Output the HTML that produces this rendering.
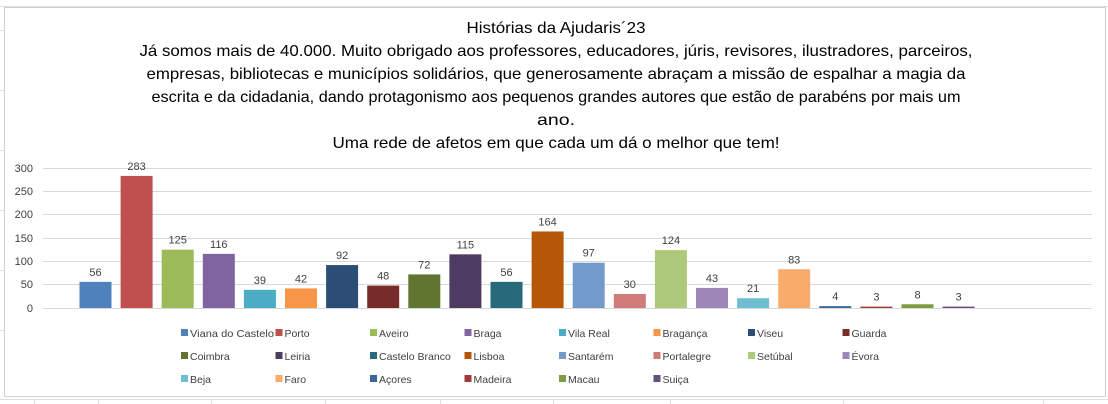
<!DOCTYPE html>
<html><head><meta charset="utf-8"><style>
body{margin:0;background:#fff;}
svg{display:block;font-family:"Liberation Sans",sans-serif;}
</style></head><body>
<svg width="1108" height="404" viewBox="0 0 1108 404" xmlns="http://www.w3.org/2000/svg">
<rect width="1108" height="404" fill="#fff"/>
<g stroke="#e0e0e0" stroke-width="1">
<line x1="0" y1="6.5" x2="1108" y2="6.5"/>
<line x1="0" y1="399.5" x2="1108" y2="399.5"/>
<line x1="34.5" y1="399" x2="34.5" y2="404"/><line x1="98.5" y1="399" x2="98.5" y2="404"/><line x1="211.5" y1="399" x2="211.5" y2="404"/><line x1="325.5" y1="399" x2="325.5" y2="404"/><line x1="440.5" y1="399" x2="440.5" y2="404"/><line x1="553.5" y1="399" x2="553.5" y2="404"/><line x1="670.5" y1="399" x2="670.5" y2="404"/><line x1="843.5" y1="399" x2="843.5" y2="404"/><line x1="1043.5" y1="399" x2="1043.5" y2="404"/>
<line x1="0" y1="30.5" x2="4" y2="30.5"/><line x1="0" y1="90.5" x2="4" y2="90.5"/><line x1="0" y1="150.5" x2="4" y2="150.5"/><line x1="0" y1="210.5" x2="4" y2="210.5"/><line x1="0" y1="270.5" x2="4" y2="270.5"/><line x1="0" y1="330.5" x2="4" y2="330.5"/>
</g>
<rect x="4.5" y="7.5" width="1101" height="389" fill="#fff" stroke="#d0d0d0"/>
<g font-size="16" fill="#000" text-anchor="middle">
<text x="556" y="33" textLength="179" lengthAdjust="spacingAndGlyphs">Histórias da Ajudaris´23</text>
<text x="556" y="56" textLength="833" lengthAdjust="spacingAndGlyphs">Já somos mais de 40.000. Muito obrigado aos professores, educadores, júris, revisores, ilustradores, parceiros,</text>
<text x="556" y="79" textLength="819" lengthAdjust="spacingAndGlyphs">empresas, bibliotecas e municípios solidários, que generosamente abraçam a missão de espalhar a magia da</text>
<text x="556" y="102" textLength="809" lengthAdjust="spacingAndGlyphs">escrita e da cidadania, dando protagonismo aos pequenos grandes autores que estão de parabéns por mais um</text>
<text x="556" y="125" textLength="38" lengthAdjust="spacingAndGlyphs">ano.</text>
<text x="556" y="148" textLength="447" lengthAdjust="spacingAndGlyphs">Uma rede de afetos em que cada um dá o melhor que tem!</text>
</g>
<g stroke="#d9d9d9" stroke-width="1">
<line x1="43" y1="168.5" x2="1092" y2="168.5"/>
<line x1="43" y1="191.5" x2="1092" y2="191.5"/>
<line x1="43" y1="214.5" x2="1092" y2="214.5"/>
<line x1="43" y1="238.5" x2="1092" y2="238.5"/>
<line x1="43" y1="261.5" x2="1092" y2="261.5"/>
<line x1="43" y1="284.5" x2="1092" y2="284.5"/>
<line x1="43" y1="308.5" x2="1092" y2="308.5"/>
</g>
<g font-size="11" fill="#404040" text-anchor="end">
<text x="33" y="172">300</text><text x="33" y="195">250</text><text x="33" y="218">200</text><text x="33" y="242">150</text><text x="33" y="265">100</text><text x="33" y="288">50</text><text x="33" y="312">0</text>
</g>
<g id="bars" font-size="11" fill="#404040" text-anchor="middle"></g>
<g id="leg" font-size="10.5" fill="#404040"></g>
<script>
var vals=[56,283,125,116,39,42,92,48,72,115,56,164,97,30,124,43,21,83,4,3,8,3];
var cols=["#4f81bd","#c0504d","#9bbb59","#8064a2","#4bacc6","#f79646","#2c4d75","#772c2a","#5f7530","#4d3b62","#276a7c","#b65708","#729aca","#d07b79","#afc97a","#9d87b8","#6fbdd1","#f9ab6b","#3a679c","#9e3b38","#7e9c40","#664f82"];
var names=["Viana do Castelo","Porto","Aveiro","Braga","Vila Real","Bragança","Viseu","Guarda","Coimbra","Leiria","Castelo Branco","Lisboa","Santarém","Portalegre","Setúbal","Évora","Beja","Faro","Açores","Madeira","Macau","Suiça"];
var ns="http://www.w3.org/2000/svg",g=document.getElementById("bars"),l=document.getElementById("leg");
function el(t,a,p,txt){var e=document.createElementNS(ns,t);for(var k in a)e.setAttribute(k,a[k]);if(txt)e.textContent=txt;p.appendChild(e);return e;}
for(var i=0;i<22;i++){var cx=95.5+i*41.1,h=vals[i]*0.4667;
el("rect",{x:cx-16,y:308-h,width:32,height:h,fill:cols[i]},g);
el("text",{x:cx,y:308-h-6},g,String(vals[i]));
var r=Math.floor(i/8),c=i%8,lx=181+c*94.5,ly=333+r*23;
el("rect",{x:lx,y:ly-4,width:7,height:7,fill:cols[i]},l);
var t=el("text",{x:lx+9,y:ly+4},l,names[i]);
if(i==0){t.setAttribute("textLength","84");t.setAttribute("lengthAdjust","spacingAndGlyphs");}}
</script>
</svg>
</body></html>
